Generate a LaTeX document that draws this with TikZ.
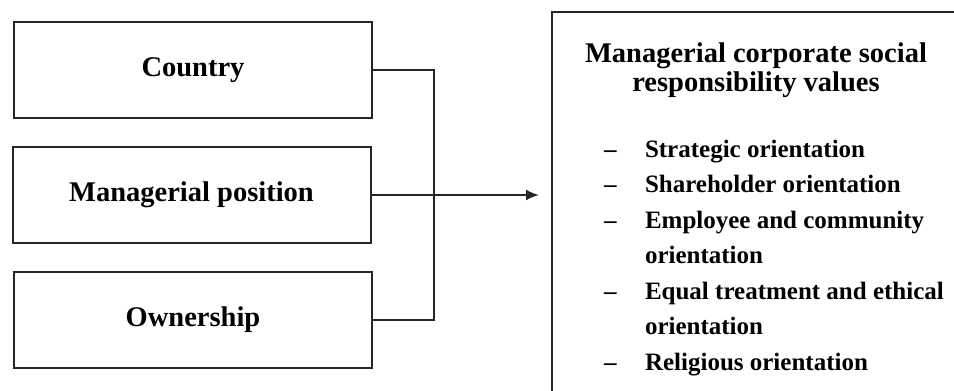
\documentclass[tikz,border=0pt]{standalone}
\usepackage{fontspec}
\setmainfont{Liberation Serif}
\usetikzlibrary{arrows.meta}

\begin{document}
\begin{tikzpicture}[x=1pt, y=1pt, line width=2pt, draw=black!85]
	% Stili per i riquadri dei fattori e per il testo
	\tikzset{fattore/.style={rectangle, draw, minimum width=358pt, minimum height=96pt, inner sep=0pt,
			font=\fontsize{28.5}{30}\selectfont\bfseries}}
	\tikzset{freccia/.style={-{Latex[length=13pt, width=11pt]}}}

	% Area della figura
	\useasboundingbox (0,0) rectangle (954,-391);
	\clip (0,0) rectangle (954,-391);

	% Fattori a sinistra
	\node[fattore] (country) at (193,-70) {Country};
	\node[fattore] (posizione) at (191.5,-195) {Managerial position};
	\node[fattore] (ownership) at (193,-319.5) {Ownership};

	% Riquadro dei valori (esce dal bordo a destra e in basso)
	\node[rectangle, draw, anchor=north west, minimum width=440pt, minimum height=420pt, inner sep=0pt]
		(valori) at (551,-11) {};
	\node[align=center, inner sep=0pt, font=\fontsize{28.5}{29.5}\selectfont\bfseries]
		(titolo) at (756,-70) {Managerial corporate social\\responsibility values};
	\node[align=left, anchor=north west, inner sep=0pt, font=\fontsize{25}{35.5}\selectfont\bfseries]
		(elenco) at (603,-139) {%
		\makebox[41pt][l]{–}Strategic orientation\\
		\makebox[41pt][l]{–}Shareholder orientation\\
		\makebox[41pt][l]{–}Employee and community\\
		\hspace*{41pt}orientation\\
		\makebox[41pt][l]{–}Equal treatment and ethical\\
		\hspace*{41pt}orientation\\
		\makebox[41pt][l]{–}Religious orientation};

	% Collegamenti
	\coordinate (nodo) at (434,-195);
	\draw (country.east) -| (nodo) |- (ownership.east);
	\draw[freccia, shorten >=12pt] (posizione.east) -- (posizione.east -| valori.west);
\end{tikzpicture}
\end{document}
